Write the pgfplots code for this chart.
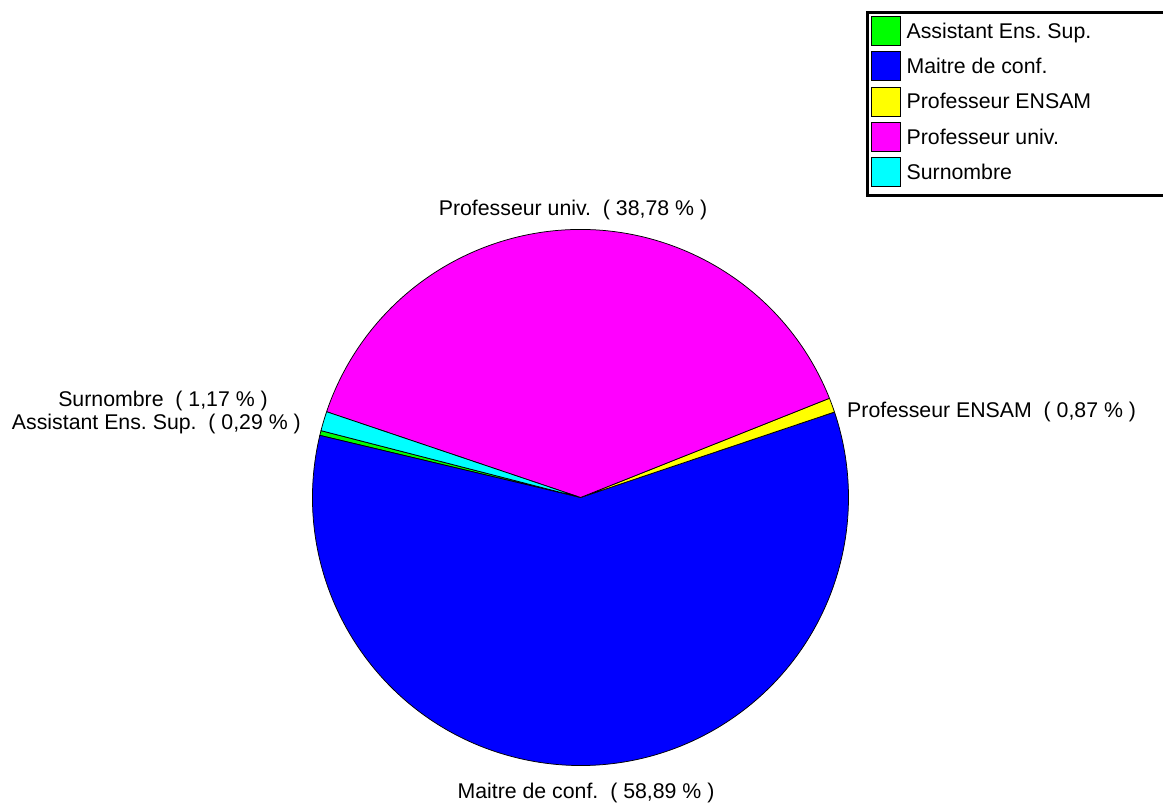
\documentclass[border=0pt]{standalone}
\usepackage{fontspec}
\setmainfont{Liberation Sans}
\usepackage{pgfplots}
\usepackage{pgfplotstable}
\pgfplotsset{compat=1.18}
\definecolor{pgreen}{RGB}{0,255,0}
\definecolor{pblue}{RGB}{0,0,255}
\definecolor{pyellow}{RGB}{255,255,0}
\definecolor{pmagenta}{RGB}{255,0,255}
\definecolor{pcyan}{RGB}{0,255,255}
\pgfplotstableread[col sep=comma]{
name,pct,col
Assistant Ens. Sup.,0.29,pgreen
Maitre de conf.,58.89,pblue
Professeur ENSAM,0.87,pyellow
Professeur univ.,38.78,pmagenta
Surnombre,1.17,pcyan
}\piedata
\begin{document}
\frenchspacing
\begin{tikzpicture}
\begin{axis}[hide axis, scale only axis, width=1163bp, height=805bp,
  xmin=0, xmax=1163, ymin=0, ymax=805, clip=false,
  legend image code/.code={\filldraw[#1] (0bp,-14.5bp) rectangle (29bp,14.5bp);},
  legend cell align=left,
  legend style={at={(axis cs:871,789)}, anchor=north west, draw=none, fill=none,
    inner sep=0pt, row sep=5.4bp, column sep=5.5bp,
    font=\fontsize{21.3bp}{25bp}\selectfont,
    nodes={inner sep=0pt}},
]
\def\cum{0}
\pgfplotsforeachungrouped \i in {0,...,4}{%
  \pgfplotstablegetelem{\i}{pct}\of\piedata \let\p\pgfplotsretval
  \pgfplotstablegetelem{\i}{col}\of\piedata \let\c\pgfplotsretval
  \pgfplotstablegetelem{\i}{name}\of\piedata \let\n\pgfplotsretval
  \pgfmathsetmacro\sa{165.55+3.6*\cum}%
  \pgfmathsetmacro\ea{\sa+3.6*\p}%
  \pgfmathsetmacro\cum{\cum+\p}%
  \edef\doslice{\noexpand\filldraw[fill=\c, draw=black, line width=0.75bp, line join=round] (axis cs:580.5,307.5) -- ++(\sa:268bp) arc[start angle=\sa, end angle=\ea, radius=268bp] -- cycle;}%
  \doslice
  \edef\doleg{\noexpand\addlegendimage{fill=\c, draw=black, line width=0.9bp}\noexpand\addlegendentry{\n}}%
  \doleg
}
\draw[line width=2.6bp] (axis cs:867.3,792.3) rectangle (axis cs:1163.8,609.3);
\begin{scope}[every node/.style={font=\fontsize{21.3bp}{25bp}\selectfont, inner sep=0pt}]
\node[anchor=base] at (axis cs:573,589) {Professeur univ.~~( 38,78 \% )};
\node[anchor=base] at (axis cs:586,7) {Maitre de conf.~~( 58,89 \% )};
\node[anchor=base west] at (axis cs:847,387) {Professeur ENSAM~~( 0,87 \% )};
\node[anchor=base east] at (axis cs:268,398) {Surnombre~~( 1,17 \% )};
\node[anchor=base east] at (axis cs:301,375.7) {Assistant Ens. Sup.~~( 0,29 \% )};
\end{scope}
\end{axis}
\pgfresetboundingbox
\path[use as bounding box] (current axis.south west) rectangle (current axis.north east);
\end{tikzpicture}
\end{document}
